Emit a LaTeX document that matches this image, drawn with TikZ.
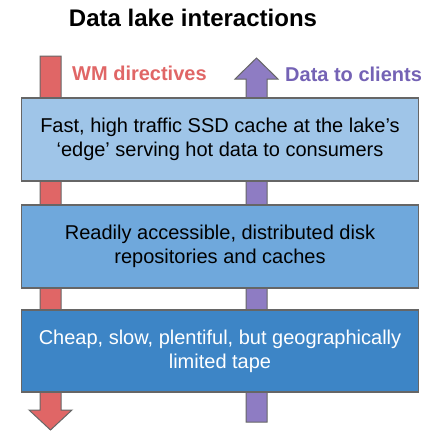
\documentclass[tikz,border=0pt]{standalone}
\usepackage{fontspec}
\setmainfont{Liberation Sans}
\definecolor{wmred}{HTML}{E06666}
\definecolor{dpurple}{HTML}{8E7CC3}
\definecolor{dpurpletext}{HTML}{7462B5}
\definecolor{boxA}{HTML}{9FC5E8}
\definecolor{boxB}{HTML}{6FA8DC}
\definecolor{boxC}{HTML}{3D85C6}
\definecolor{edgegray}{HTML}{666666}
\begin{document}
\begin{tikzpicture}[x=1pt,y=-1pt,
  layerbox/.style={draw=edgegray,line width=1.1pt,minimum width=397pt,minimum height=83pt,
    align=center,inner sep=0pt,font=\fontsize{20}{24}\selectfont},
  arrowshape/.style={draw=edgegray,line width=1pt,line join=miter},
  lbl/.style={font=\fontsize{20}{24}\selectfont\bfseries,inner sep=0pt}]
\useasboundingbox (0,0) rectangle (427,431);
% title
\node[font=\fontsize{24}{28}\selectfont\bfseries,inner sep=0pt] (title) at (193,18) {Data lake interactions};
% red arrow (down)
\coordinate (r1) at (40,56);
\coordinate (r2) at (61,56);
\coordinate (r3) at (61,410);
\coordinate (r4) at (72,410);
\coordinate (rtip) at (50.5,430);
\coordinate (r6) at (29,410);
\coordinate (r7) at (40,410);
\draw[arrowshape,fill=wmred] (r1) -- (r2) -- (r3) -- (r4) -- (rtip) -- (r6) -- (r7) -- cycle;
% purple arrow (up)
\coordinate (p1) at (246,422);
\coordinate (p2) at (267,422);
\coordinate (p3) at (267,79);
\coordinate (p4) at (278,79);
\coordinate (ptip) at (256.5,58);
\coordinate (p6) at (235,79);
\coordinate (p7) at (246,79);
\draw[arrowshape,fill=dpurple] (p1) -- (p2) -- (p3) -- (p4) -- (ptip) -- (p6) -- (p7) -- cycle;
% labels
\node[lbl,text=wmred,anchor=west] (wm) at (72,73) {WM directives};
\node[lbl,text=dpurpletext,anchor=west] (dc) at (285,74) {Data to clients};
% boxes
\node[layerbox,fill=boxA] (box1) at (220,139.5) {Fast, high traffic SSD cache at the lake’s\\‘edge’ serving hot data to consumers};
\node[layerbox,fill=boxB] (box2) at (220,246.5) {Readily accessible, distributed disk\\repositories and caches};
\node[layerbox,fill=boxC,text=white,minimum height=82pt] (box3) at (220,351) {Cheap, slow, plentiful, but geographically\\limited tape};
\end{tikzpicture}
\end{document}
